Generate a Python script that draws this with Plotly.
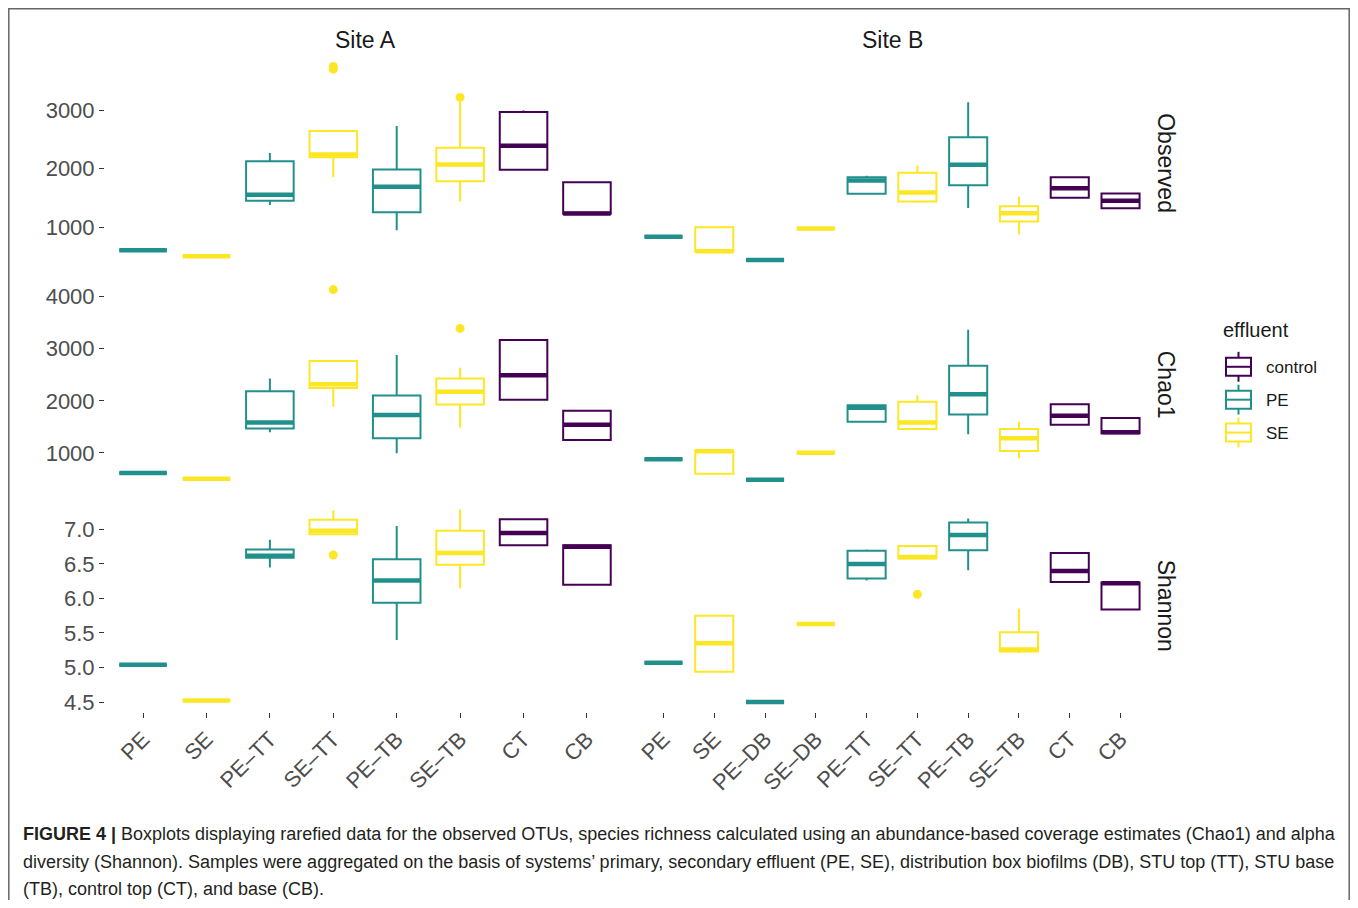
import plotly.graph_objects as go

# ---------------- data ----------------
site_a_cats = ["PE", "SE", "PE–TT", "SE–TT", "PE–TB", "SE–TB", "CT", "CB"]
site_a_groups = ["PE", "SE", "PE", "SE", "PE", "SE", "control", "control"]
site_b_cats = ["PE", "SE", "PE–DB", "SE–DB", "PE–TT", "SE–TT", "PE–TB", "SE–TB", "CT", "CB"]
site_b_groups = ["PE", "SE", "PE", "SE", "PE", "SE", "PE", "SE", "control", "control"]

# Observed
obs_a_low = [603, 500, 1380, 1855, 945, 1438, 1983, 1229]
obs_a_q1 = [603, 500, 1449, 2197, 1252, 1785, 1983, 1229]
obs_a_med = [603, 500, 1554, 2243, 1693, 2075, 2394, 1232]
obs_a_q3 = [603, 500, 2128, 2649, 1988, 2359, 2974, 1768]
obs_a_high = [603, 500, 2272, 2649, 2736, 3150, 3000, 1768]
obs_a_out = [[], [], [], [3710, 3755], [], [3225], [], []]

obs_b_low = [835, 580, 435, 974, 1571, 1438, 1328, 870, 1501, 1322]
obs_b_q1 = [835, 580, 435, 974, 1571, 1438, 1716, 1096, 1501, 1322]
obs_b_med = [835, 585, 435, 974, 1797, 1594, 2070, 1235, 1664, 1449]
obs_b_q3 = [835, 997, 435, 974, 1855, 1930, 2539, 1357, 1855, 1577]
obs_b_high = [835, 997, 435, 974, 1878, 2058, 3142, 1519, 1855, 1577]
obs_b_out = [[], [], [], [], [], [], [], [], [], []]

# Chao1
chao_a_low = [618, 503, 1395, 1885, 994, 1484, 2019, 1248]
chao_a_q1 = [618, 503, 1471, 2248, 1280, 1930, 2019, 1248]
chao_a_med = [618, 503, 1586, 2318, 1726, 2172, 2490, 1541]
chao_a_q3 = [618, 503, 2185, 2764, 2102, 2427, 3166, 1809]
chao_a_high = [618, 503, 2427, 2764, 2879, 2637, 3166, 1809]
chao_a_out = [[], [], [], [4134], [], [3389], [], []]

chao_b_low = [879, 599, 484, 1006, 1599, 1459, 1357, 898, 1541, 1376]
chao_b_q1 = [879, 599, 484, 1006, 1599, 1459, 1739, 1038, 1541, 1376]
chao_b_med = [879, 1032, 484, 1006, 1866, 1586, 2127, 1280, 1713, 1395]
chao_b_q3 = [879, 1045, 484, 1006, 1917, 1981, 2675, 1459, 1936, 1669]
chao_b_high = [879, 1045, 484, 1006, 1917, 2108, 3363, 1599, 1936, 1669]
chao_b_out = [[], [], [], [], [], [], [], [], [], []]

# Shannon
sha_a_low = [5.04, 4.52, 6.45, 6.93, 5.40, 6.15, 6.77, 6.20]
sha_a_q1 = [5.04, 4.52, 6.59, 6.93, 5.94, 6.49, 6.77, 6.20]
sha_a_med = [5.04, 4.52, 6.62, 6.98, 6.26, 6.66, 6.95, 6.75]
sha_a_q3 = [5.04, 4.52, 6.71, 7.14, 6.57, 6.98, 7.15, 6.77]
sha_a_high = [5.04, 4.52, 6.85, 7.28, 7.05, 7.29, 7.15, 6.77]
sha_a_out = [[], [], [], [6.63], [], [], [], []]

sha_b_low = [5.07, 4.94, 4.50, 5.63, 6.26, 6.58, 6.41, 5.21, 6.24, 5.84]
sha_b_q1 = [5.07, 4.94, 4.50, 5.63, 6.29, 6.58, 6.70, 5.23, 6.24, 5.84]
sha_b_med = [5.07, 5.35, 4.50, 5.63, 6.50, 6.60, 6.92, 5.26, 6.40, 6.22]
sha_b_q3 = [5.07, 5.75, 4.50, 5.63, 6.69, 6.76, 7.10, 5.51, 6.66, 6.23]
sha_b_high = [5.07, 5.75, 4.50, 5.63, 6.71, 6.77, 7.16, 5.85, 6.66, 6.23]
sha_b_out = [[], [], [], [], [], [6.06], [], [], [], []]

metrics = ["Observed", "Chao1", "Shannon"]
sites = ["Site A", "Site B"]
group_order = ["control", "PE", "SE"]
group_colors = {"control": "#440154", "PE": "#21908C", "SE": "#FDE725"}

panels = {
    (0, 0): (obs_a_low, obs_a_q1, obs_a_med, obs_a_q3, obs_a_high, obs_a_out),
    (0, 1): (obs_b_low, obs_b_q1, obs_b_med, obs_b_q3, obs_b_high, obs_b_out),
    (1, 0): (chao_a_low, chao_a_q1, chao_a_med, chao_a_q3, chao_a_high, chao_a_out),
    (1, 1): (chao_b_low, chao_b_q1, chao_b_med, chao_b_q3, chao_b_high, chao_b_out),
    (2, 0): (sha_a_low, sha_a_q1, sha_a_med, sha_a_q3, sha_a_high, sha_a_out),
    (2, 1): (sha_b_low, sha_b_q1, sha_b_med, sha_b_q3, sha_b_high, sha_b_out),
}
site_cats = [site_a_cats, site_b_cats]
site_groups = [site_a_groups, site_b_groups]

# ---------------- geometry (page pixels; page body has an 8px margin) ----------------
OFF = 8
FW, FH = 1342, 892
col_px = [(105, 625), (633, 1151)]
row_px = [(57, 270.5), (281, 491), (501.5, 714)]
BOXW = 0.75
LINE_W = 2
FONT = "Liberation Sans, Arial, sans-serif"


def fx(px):
    return (px - OFF) / FW


def fy(py):
    return 1 - (py - OFF) / FH


fig = go.Figure()
for r in range(3):
    for c in range(2):
        idx = r * 2 + c + 1
        xa = "x" if idx == 1 else f"x{idx}"
        ya = "y" if idx == 1 else f"y{idx}"
        low, q1, med, q3, high, outs = panels[(r, c)]
        groups = site_groups[c]
        for g in group_order:
            pos = [i for i, gg in enumerate(groups) if gg == g]
            if not pos:
                continue
            col = group_colors[g]
            fig.add_trace(go.Box(
                x=pos,
                q1=[q1[i] for i in pos], median=[med[i] for i in pos],
                q3=[q3[i] for i in pos], lowerfence=[low[i] for i in pos],
                upperfence=[high[i] for i in pos],
                width=BOXW, whiskerwidth=0, boxpoints=False,
                line=dict(color=col, width=LINE_W), fillcolor="rgba(255,255,255,0)",
                name=g, legendgroup=g, showlegend=False,
                xaxis=xa, yaxis=ya, hoverinfo="skip",
            ))
            # thicker median line (ggplot style)
            mx, my = [], []
            for i in pos:
                mx += [i - BOXW / 2, i + BOXW / 2, None]
                my += [med[i], med[i], None]
            fig.add_trace(go.Scatter(x=mx, y=my, mode="lines",
                                     line=dict(color=col, width=4.5),
                                     showlegend=False, legendgroup=g,
                                     xaxis=xa, yaxis=ya, hoverinfo="skip"))
            ox, oy = [], []
            for i in pos:
                for v in outs[i]:
                    ox.append(i)
                    oy.append(v)
            if ox:
                fig.add_trace(go.Scatter(x=ox, y=oy, mode="markers",
                                         marker=dict(color=col, size=9),
                                         showlegend=False, legendgroup=g,
                                         xaxis=xa, yaxis=ya, hoverinfo="skip"))

layout = {}
for r in range(3):
    vals = []
    for c in range(2):
        low, q1, med, q3, high, outs = panels[(r, c)]
        vals += low + high
        for o in outs:
            vals += o
    lo, hi = min(vals), max(vals)
    pad = (hi - lo) * 0.05
    yr = [lo - pad, hi + pad]
    for c in range(2):
        idx = r * 2 + c + 1
        xk = "xaxis" if idx == 1 else f"xaxis{idx}"
        yk = "yaxis" if idx == 1 else f"yaxis{idx}"
        n = len(site_cats[c])
        bottom = (r == 2)
        layout[xk] = dict(
            domain=[fx(col_px[c][0]), fx(col_px[c][1])],
            anchor=("y" if idx == 1 else f"y{idx}"),
            range=[-0.6, n - 1 + 0.6], showgrid=False, zeroline=False,
            showline=False, tickmode="array", tickvals=list(range(n)),
            ticktext=site_cats[c], showticklabels=bottom,
            ticks="outside" if bottom else "", ticklen=5, tickwidth=1.3,
            tickcolor="#333333", tickangle=-45,
            tickfont=dict(family=FONT, size=22, color="#4D4D4D"),
        )
        if r == 2:
            ydict = dict(dtick=0.5, tick0=0, tickformat=".1f")
        else:
            ydict = dict(dtick=1000, tick0=0, tickformat="d")
        layout[yk] = dict(
            domain=[fy(row_px[r][1]), fy(row_px[r][0])],
            anchor=("x" if idx == 1 else f"x{idx}"),
            range=yr, showgrid=False, zeroline=False, showline=False,
            showticklabels=(c == 0), ticks="outside" if c == 0 else "",
            ticklen=5, tickwidth=1.3, tickcolor="#333333",
            tickfont=dict(family=FONT, size=22, color="#4D4D4D"), **ydict,
        )

annotations = []
for c, s in enumerate(sites):
    annotations.append(dict(text=s, x=fx((col_px[c][0] + col_px[c][1]) / 2), y=fy(40),
                            xref="paper", yref="paper", xanchor="center", yanchor="middle",
                            showarrow=False, font=dict(family=FONT, size=23, color="#1A1A1A")))
for r, m in enumerate(metrics):
    annotations.append(dict(text=m, x=fx(1166), y=fy((row_px[r][0] + row_px[r][1]) / 2),
                            xref="paper", yref="paper", xanchor="center", yanchor="middle",
                            showarrow=False, textangle=90,
                            font=dict(family=FONT, size=23, color="#1A1A1A")))

# legend (ggplot-style key glyphs)
shapes = []
annotations.append(dict(text="effluent", x=fx(1221), y=fy(331), xref="paper", yref="paper",
                        xanchor="left", yanchor="middle", showarrow=False,
                        font=dict(family=FONT, size=20, color="#1A1A1A")))
for k, g in enumerate(group_order):
    cy = 368 + 33 * k
    col = group_colors[g]
    shapes.append(dict(type="rect", xref="paper", yref="paper",
                       x0=fx(1226), x1=fx(1251), y0=fy(cy + 9), y1=fy(cy - 9),
                       line=dict(color=col, width=2), fillcolor="rgba(0,0,0,0)"))
    shapes.append(dict(type="line", xref="paper", yref="paper",
                       x0=fx(1226), x1=fx(1251), y0=fy(cy), y1=fy(cy),
                       line=dict(color=col, width=2)))
    shapes.append(dict(type="line", xref="paper", yref="paper",
                       x0=fx(1238.5), x1=fx(1238.5), y0=fy(cy - 9), y1=fy(cy - 15),
                       line=dict(color=col, width=2)))
    shapes.append(dict(type="line", xref="paper", yref="paper",
                       x0=fx(1238.5), x1=fx(1238.5), y0=fy(cy + 9), y1=fy(cy + 15),
                       line=dict(color=col, width=2)))
    annotations.append(dict(text=g, x=fx(1264), y=fy(cy + 1), xref="paper", yref="paper",
                            xanchor="left", yanchor="middle", showarrow=False,
                            font=dict(family=FONT, size=17, color="#1A1A1A")))

caption_lines = [
    "<b>FIGURE 4 |</b> Boxplots displaying rarefied data for the observed OTUs, species richness calculated using an abundance-based coverage estimates (Chao1) and alpha",
    "diversity (Shannon). Samples were aggregated on the basis of systems’ primary, secondary effluent (PE, SE), distribution box biofilms (DB), STU top (TT), STU base",
    "(TB), control top (CT), and base (CB).",
]
caption_y = [837, 865, 892]
for t, yy in zip(caption_lines, caption_y):
    annotations.append(dict(text=t, x=fx(21), y=fy(yy), xref="paper", yref="paper",
                            xanchor="left", yanchor="middle", showarrow=False,
                            font=dict(family=FONT, size=18, color="#231F20")))

# outer frame
shapes.append(dict(type="rect", xref="paper", yref="paper",
                   x0=0.8 / FW, x1=1 - 0.8 / FW, y0=-0.05, y1=1 - 0.8 / FH,
                   line=dict(color="#666666", width=1.5)))

fig.update_layout(
    width=FW, height=FH, margin=dict(l=0, r=0, t=0, b=0),
    paper_bgcolor="white", plot_bgcolor="white",
    showlegend=False,
    annotations=annotations,
    shapes=shapes,
    **layout,
)

fig.write_html("out.html")
